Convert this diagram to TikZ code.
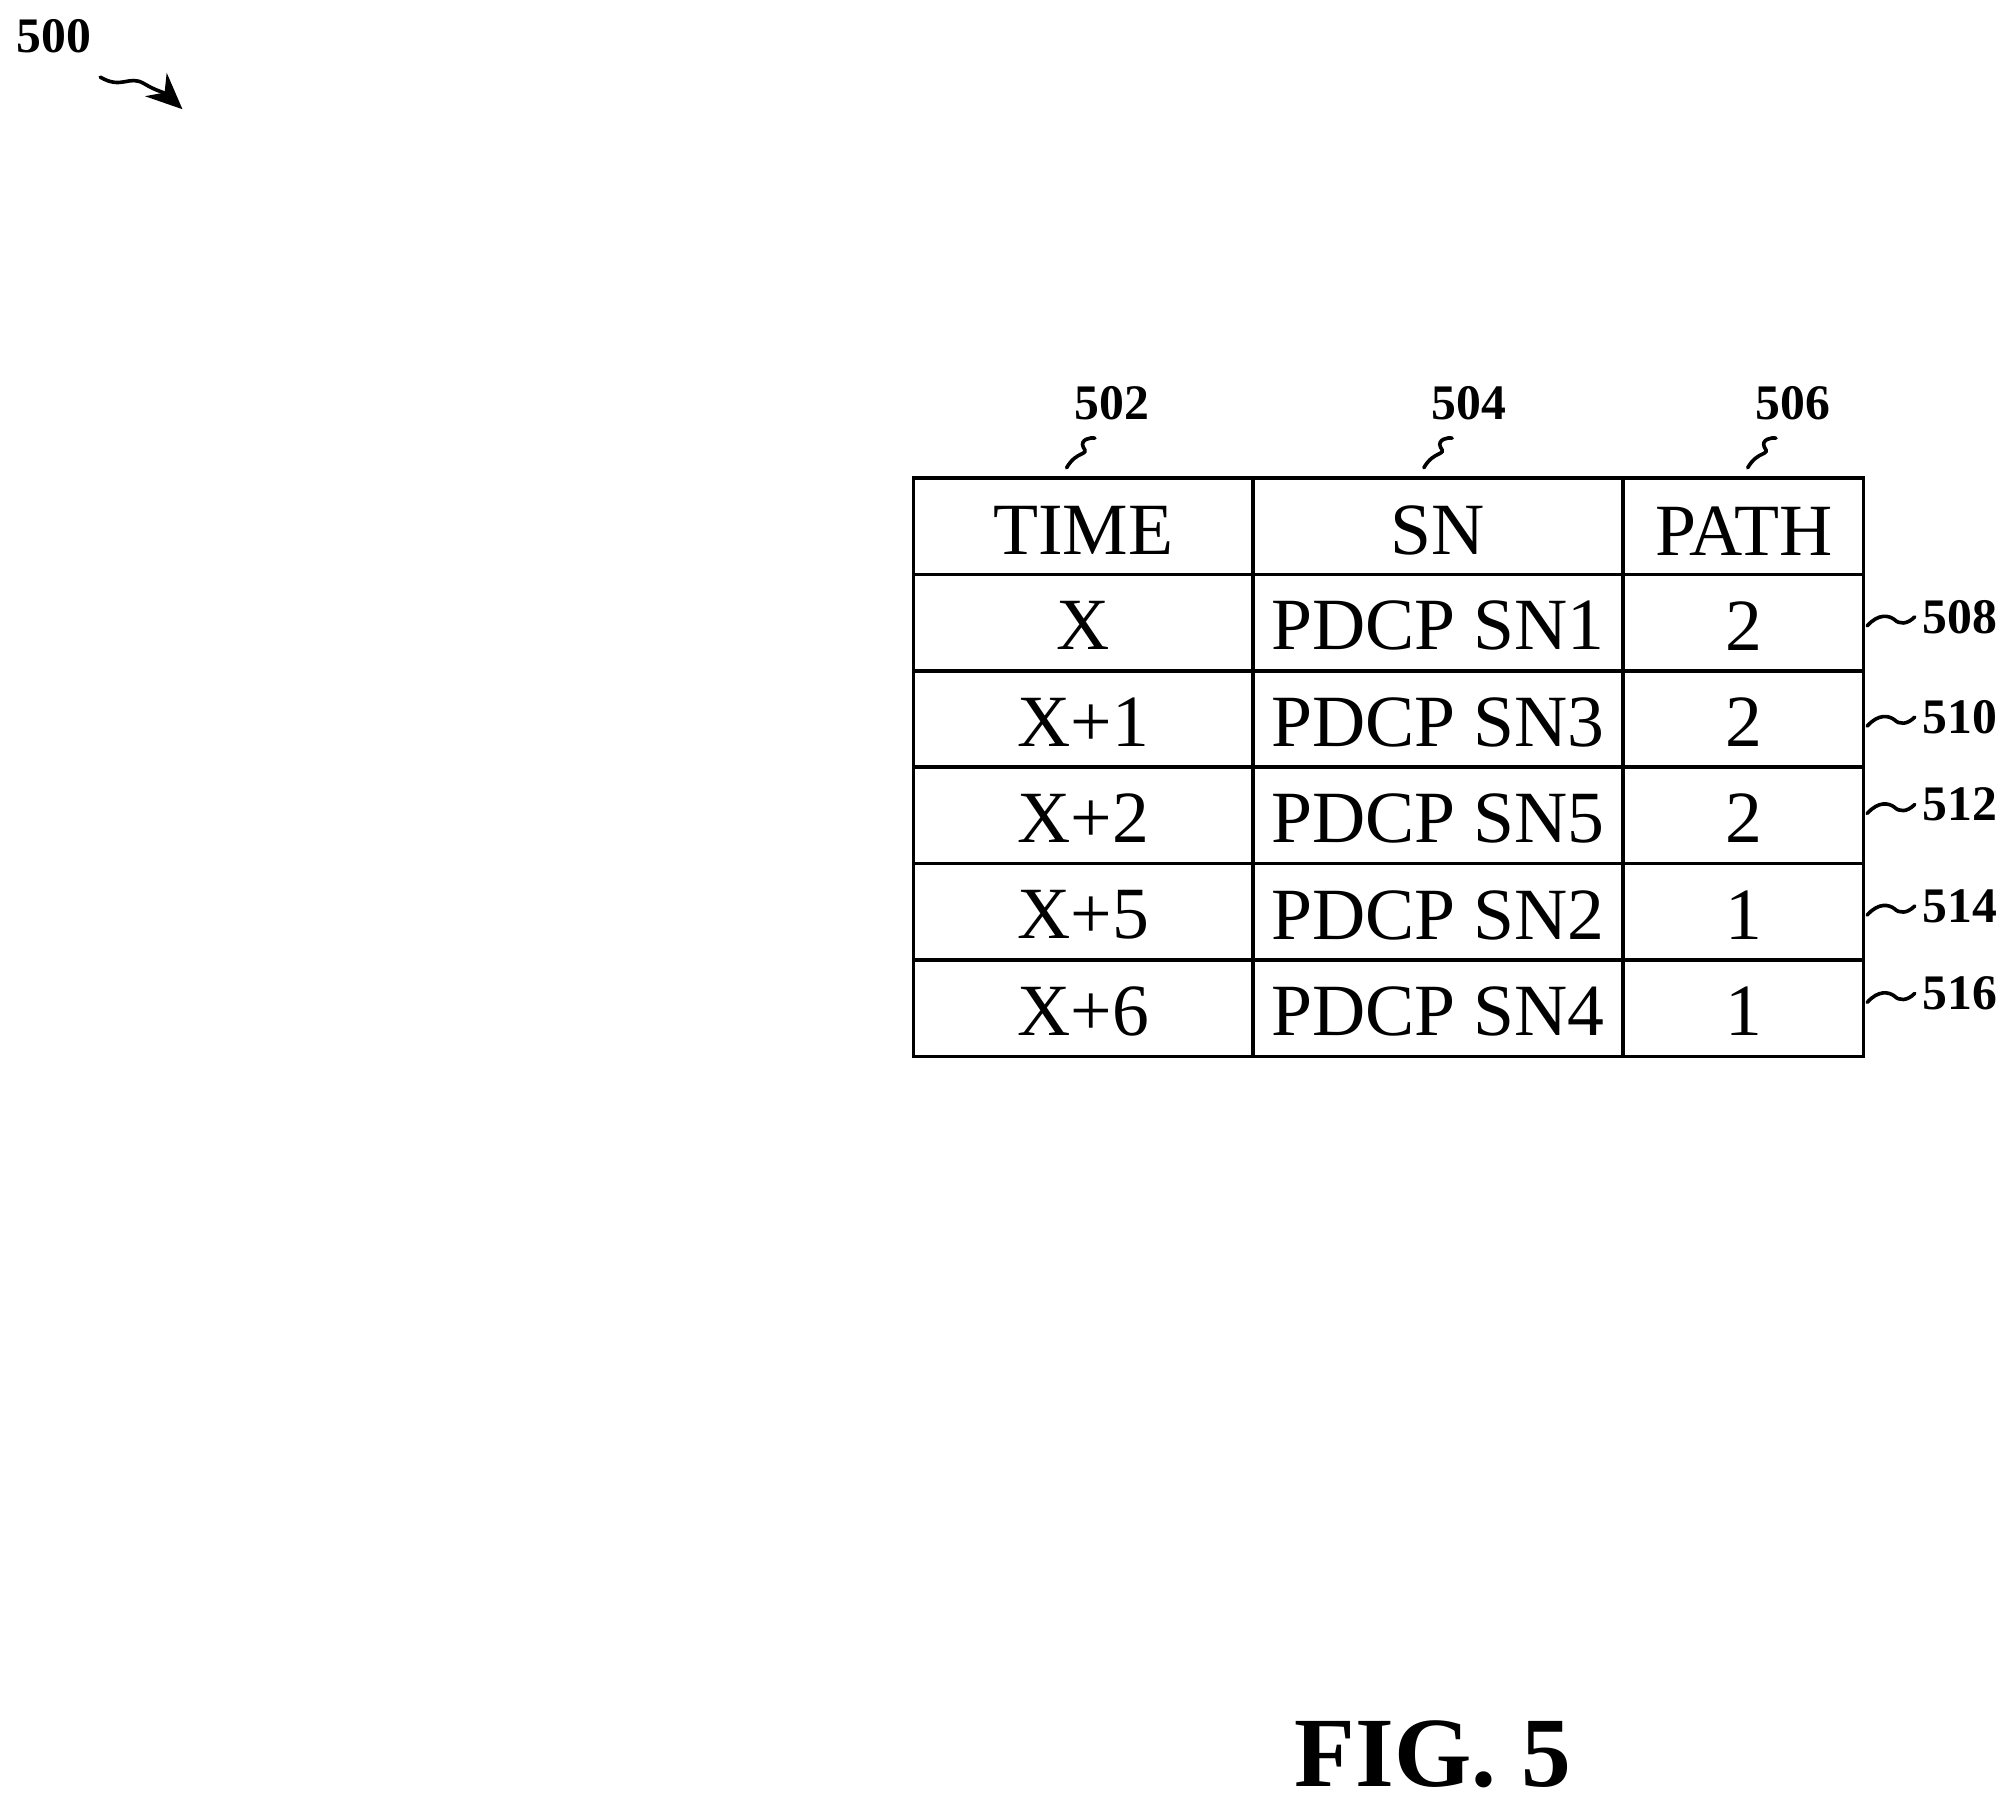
\documentclass[tikz,border=0pt]{standalone}
\usepackage{fontspec}
\setmainfont{Liberation Serif}
\usetikzlibrary{arrows.meta}
\tikzset{
    cell/.style = {font=\fontsize{16.3}{18}\selectfont, inner sep=0pt},
    refnum/.style = {font=\fontsize{11}{13}\selectfont\bfseries, inner sep=0pt},
    squig/.style = {thick, line cap=round}
}
\begin{document}
\begin{tikzpicture}[x=0.01cm, y=-0.01cm]
    \useasboundingbox (0,0) rectangle (1568,1408);

    % table frame
    \draw[thick] (711,372) rectangle (1450,822);
    \foreach \cx in {975,1263}
        \draw[thick] (\cx,372) -- (\cx,822);
    \foreach \ry in {447,522,597,672,747}
        \draw[thick] (711,\ry) -- (1450,\ry);

    % cells
    \node[cell] (hTime) at (843,413) {TIME};
    \node[cell] (hSn)   at (1119,413) {SN};
    \node[cell] (hPath) at (1357,413) {PATH};
    \foreach \t/\s/\p [count=\i] in {X/PDCP SN1/2, X+1/PDCP SN3/2, X+2/PDCP SN5/2, X+5/PDCP SN2/1, X+6/PDCP SN4/1} {
        \node[cell] at (843,412+75*\i) {\t};
        \node[cell] at (1119,412+75*\i) {\s};
        \node[cell] at (1357,412+75*\i) {\p};
    }

    % column labels
    \foreach \lx/\num in {843/502, 1121/504, 1373/506} {
        \node[refnum] (c\num) at (\lx+22,314) {\num};
        \draw[squig] (\lx-13,364) .. controls (\lx-5,350) and (\lx+5,355) .. (\lx,348)
                                  .. controls (\lx-3,342) and (\lx+6,340) .. (\lx+9,341);
    }

    % row labels
    \foreach \ly/\num in {482/508, 560/510, 628/512, 707/514, 775/516} {
        \node[refnum] (r\num) at (1525,\ly-2) {\num};
        \draw[squig] (1453,\ly+5) .. controls (1462,\ly-5) and (1470,\ly-3) .. (1474,\ly)
                                  .. controls (1478,\ly+4) and (1484,\ly+4) .. (1490,\ly-2);
    }

    % figure number
    \node[refnum] (fig) at (42,28) {500};
    \coordinate (figEnd) at (142,85);
    \draw[squig, -{Stealth[length=8pt, width=7pt]}] (78,60) .. controls (95,70) and (100,58) .. (112,65)
        .. controls (122,71) and (128,72) .. (figEnd);

    \node[font=\fontsize{22}{24}\selectfont\bfseries, inner sep=0pt] (caption) at (1115,1365) {FIG. 5};
\end{tikzpicture}
\end{document}
